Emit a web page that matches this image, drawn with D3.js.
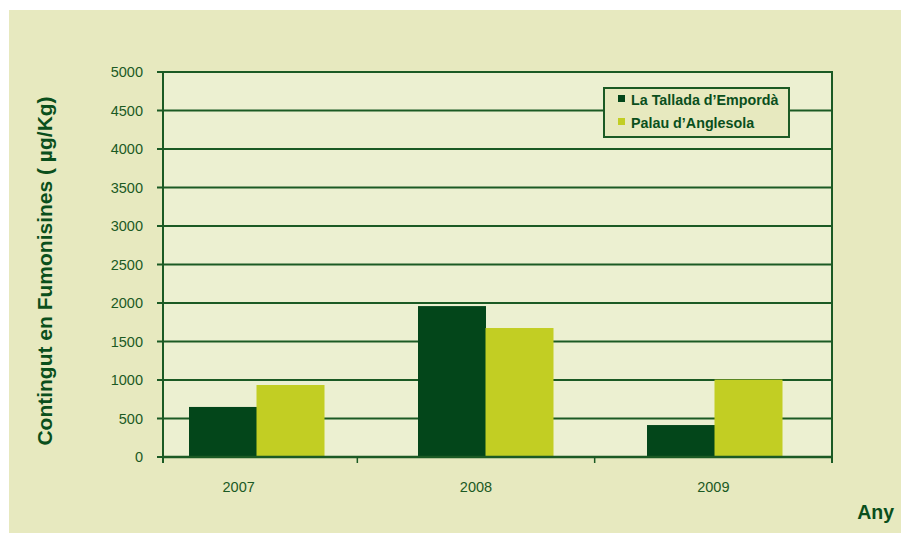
<!DOCTYPE html>
<html><head><meta charset="utf-8">
<script src="https://cdn.jsdelivr.net/npm/d3@7"></script>
<style>body{margin:0;background:#fff;}svg{display:block;font-family:"Liberation Sans",Arial,sans-serif;}</style>
</head><body>
<script>
const categories = ["2007","2008","2009"];
const seriesNames = ["La Tallada d\u2019Empordà","Palau d\u2019Anglesola"];
const tallada = [650, 1960, 415];
const palau = [935, 1675, 1005];
const yTicks = [0,500,1000,1500,2000,2500,3000,3500,4000,4500,5000];

(function(){
const W=901,H=533;
const colors=["#03461a","#c2ce23"];
const ink="#1b5a24";
const svg=d3.select("body").append("svg").attr("width",W).attr("height",H);
svg.append("rect").attr("x",9).attr("y",10).attr("width",W-9).attr("height",H-10).attr("fill","#e7e9bf");

const pL=163,pR=832,pT=72,pB=457;
svg.append("rect").attr("x",pL).attr("y",pT).attr("width",pR-pL).attr("height",pB-pT).attr("fill","#ecf0d1");

const y=d3.scaleLinear().domain([0,5000]).range([pB,pT]);
const xAxisScale=d3.scaleBand().domain(categories).range([120,832]);
const xBars=d3.scaleBand().domain(categories).range([142,829]);
const inner=d3.scaleBand().domain([0,1]).range([0,135]);

svg.append("g").selectAll("line").data(yTicks).join("line")
 .attr("x1",pL-6).attr("x2",pR).attr("y1",d=>y(d)).attr("y2",d=>y(d))
 .attr("stroke",ink).attr("stroke-width",2.2);

const groups=svg.append("g").selectAll("g").data(categories).join("g")
 .attr("transform",d=>`translate(${xBars(d)+xBars.bandwidth()/2-67.5},0)`);
groups.selectAll("rect").data((d,i)=>[tallada[i],palau[i]]).join("rect")
 .attr("x",(d,j)=>inner(j)).attr("width",inner.bandwidth()+0.5)
 .attr("y",d=>y(d)).attr("height",d=>y(0)-y(d)).attr("fill",(d,j)=>colors[j]);

svg.append("line").attr("x1",pL).attr("x2",pR).attr("y1",pB).attr("y2",pB).attr("stroke",ink).attr("stroke-width",2.5);
svg.append("line").attr("x1",pL).attr("x2",pL).attr("y1",pT-1).attr("y2",pB+6).attr("stroke",ink).attr("stroke-width",2);
svg.append("line").attr("x1",pR).attr("x2",pR).attr("y1",pT-1).attr("y2",pB+6).attr("stroke",ink).attr("stroke-width",2);

svg.append("g").selectAll("line").data(categories.slice(1)).join("line")
 .attr("x1",d=>xAxisScale(d)).attr("x2",d=>xAxisScale(d)).attr("y1",pB).attr("y2",pB+6)
 .attr("stroke",ink).attr("stroke-width",1.5);

svg.append("g").selectAll("text").data(yTicks).join("text")
 .attr("x",143).attr("y",d=>y(d)).attr("dy","0.35em").attr("text-anchor","end")
 .attr("font-size",14.5).attr("fill",ink).text(d=>d);

svg.append("g").selectAll("text").data(categories).join("text")
 .attr("x",d=>xAxisScale(d)+xAxisScale.bandwidth()/2).attr("y",492).attr("text-anchor","middle")
 .attr("font-size",14.5).attr("fill",ink).text(d=>d);

svg.append("text").attr("transform","translate(52,271) rotate(-90)").attr("text-anchor","middle")
 .attr("font-size",21).attr("font-weight","bold").attr("fill","#0a4f1c").text("Contingut en Fumonisines ( µg/Kg)");
svg.append("text").attr("x",894).attr("y",519).attr("text-anchor","end")
 .attr("font-size",19.5).attr("font-weight","bold").attr("fill","#0a4f1c").text("Any");

const lg=svg.append("g");
lg.append("rect").attr("x",604).attr("y",88).attr("width",185).attr("height",49)
 .attr("fill","#e7e9bf").attr("stroke",ink).attr("stroke-width",2);
seriesNames.forEach((n,i)=>{
  lg.append("rect").attr("x",618).attr("y",95+i*23).attr("width",7).attr("height",7).attr("fill",colors[i]);
  lg.append("text").attr("x",631).attr("y",105+i*23).attr("font-size",14.3).attr("font-weight","bold").attr("fill","#0a4f1c").text(n);
});
})();
</script>
</body></html>
